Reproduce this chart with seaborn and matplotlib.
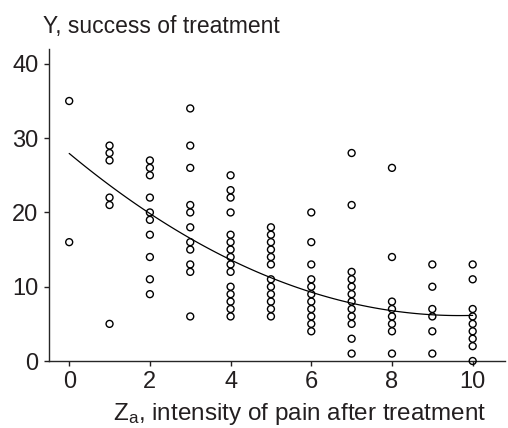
import pandas as pd
import matplotlib
matplotlib.use("Agg")
import matplotlib.pyplot as plt
import seaborn as sns

# success of treatment (Y) observed at each pain score (Za)
pain_levels = [0, 1, 2, 3, 4, 5, 6, 7, 8, 9, 10]
success = [
    [35, 16],
    [29, 28, 27, 22, 21, 5],
    [27, 26, 25, 22, 20, 19, 17, 14, 11, 9],
    [34, 29, 26, 21, 20, 18, 16, 15, 13, 12, 6],
    [25, 23, 22, 20, 17, 16, 15, 14, 13, 12, 10, 9, 8, 7, 6],
    [18, 17, 16, 15, 14, 13, 11, 10, 9, 8, 7, 6],
    [20, 16, 13, 11, 10, 9, 8, 7, 6, 5, 4],
    [28, 21, 12, 11, 10, 9, 8, 7, 6, 5, 3, 1],
    [26, 14, 8, 7, 6, 5, 4, 1],
    [13, 10, 7, 6, 4, 1],
    [13, 11, 7, 6, 5, 4, 3, 2, 0],
]

# trend curve at each pain score
trend_x = [0, 1, 2, 3, 4, 5, 6, 7, 8, 9, 10]
trend_y = [27.6, 24.1, 20.0, 16.3, 13.7, 11.1, 9.3, 7.7, 6.8, 6.2, 6.2]

rows = []
for z, ys in zip(pain_levels, success):
    for y in ys:
        rows.append((z, y))
df = pd.DataFrame(rows, columns=["Za", "Y"])
trend = pd.DataFrame({"Za": trend_x, "Y": trend_y})

sns.set_style("ticks")
plt.rcParams["font.family"] = ["Liberation Sans", "DejaVu Sans"]
plt.rcParams["mathtext.fontset"] = "custom"
plt.rcParams["mathtext.rm"] = "Liberation Sans"
plt.rcParams["mathtext.it"] = "Liberation Sans"

txt = "#231f20"
fig = plt.figure(figsize=(5.08, 4.28), dpi=100)
ax = fig.add_axes([0.0965, 0.1565, 0.8975, 0.729])

sns.scatterplot(data=df, x="Za", y="Y", ax=ax, marker="o", s=25,
                facecolors="none", edgecolors="black", linewidth=1.0,
                zorder=3, clip_on=False)
sns.regplot(data=trend, x="Za", y="Y", ax=ax, scatter=False, order=2, ci=None,
            line_kws={"color": "black", "linewidth": 0.9})

ax.set_xlim(-0.5, 10.8)
ax.set_ylim(0, 42)
ax.set_xticks([0, 2, 4, 6, 8, 10])
ax.set_yticks([0, 10, 20, 30, 40])
ax.tick_params(labelsize=17, length=3.5, width=1, colors=txt, pad=4)
sns.despine(ax=ax)
ax.spines["left"].set_linewidth(1)
ax.spines["bottom"].set_linewidth(1)

ax.set_xlabel("")
ax.set_ylabel("")
fig.text(0.59, 0.0187, r"$\mathregular{Z_a}$, intensity of pain after treatment",
         fontsize=17.5, color=txt, ha="center", va="baseline")
fig.text(0.085, 0.923, "Y, success of treatment", fontsize=16.5,
         color=txt, ha="left", va="baseline")

fig.savefig("out.png", dpi=100)
